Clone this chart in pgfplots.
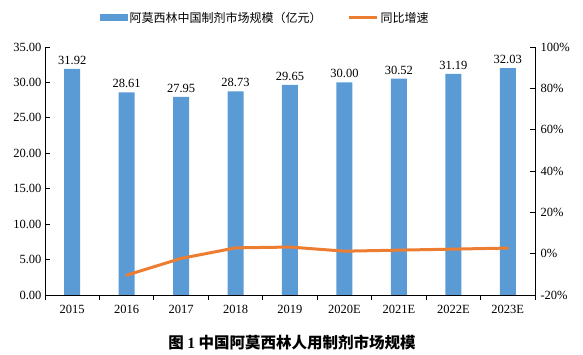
\documentclass[border=0pt]{standalone}
\usepackage{pgfplots}
\pgfplotsset{compat=1.18}
\usepackage{fontspec}
\setmainfont{Liberation Serif}
\newfontfamily\cjk{Noto Sans CJK SC}
\definecolor{barblue}{HTML}{5B9BD5}
\definecolor{lineorange}{HTML}{ED7D31}
\begin{document}
\begin{tikzpicture}
\path[use as bounding box] (0,0) rectangle (583pt,355pt);
\begin{axis}[
  at={(45pt,60pt)}, anchor=south west,
  scale only axis, width=490pt, height=248pt,
  xmin=-0.5, xmax=8.5, ymin=0, ymax=35,
  axis x line*=bottom, axis y line*=left,
  axis line style={black, line width=0.8pt},
  xtick={0,...,8},
  xticklabels={2015,2016,2017,2018,2019,2020E,2021E,2022E,2023E},
  major x tick style={draw=none},
  minor xtick={-0.5,0.5,...,8.5},
  minor x tick style={black, line width=0.8pt},
  tick align=inside,
  major tick length=5pt, minor tick length=5pt,
  ytick={0,5,...,35},
  ytick style={black, line width=0.8pt},
  /pgf/number format/assume math mode=true,
  /pgf/number format/fixed, /pgf/number format/fixed zerofill, /pgf/number format/precision=2,
  tick label style={font=\fontsize{12.5}{14}\selectfont},
  xticklabel style={yshift=-2pt},
  ybar, bar width=16pt,
  nodes near coords,
  every node near coord/.append style={font=\fontsize{12.5}{14}\selectfont, black, yshift=1pt},
  legend columns=2,
  legend style={draw=none, fill=none, at={(0.449,1.117)}, anchor=center,
    font=\cjk\fontsize{12}{14}\selectfont,
    /tikz/every even column/.append style={column sep=24pt}},
]
\addplot[fill=barblue, draw=none,
  legend image code/.code={\fill[barblue] (0pt,-3.5pt) rectangle (28pt,3.5pt);}]
  coordinates {(0,31.92) (1,28.61) (2,27.95) (3,28.73) (4,29.65) (5,30.00) (6,30.52) (7,31.19) (8,32.03)};
\addlegendentry{阿莫西林中国制剂市场规模（亿元）}
\addlegendimage{legend image code/.code={\draw[lineorange, line width=3pt] (0pt,0pt) -- (28pt,0pt);}}
\addlegendentry{同比增速}
\end{axis}
\begin{axis}[
  at={(45pt,60pt)}, anchor=south west,
  scale only axis, width=490pt, height=248pt,
  xmin=-0.5, xmax=8.5, ymin=-20, ymax=100,
  hide x axis,
  axis y line*=right,
  axis line style={black, line width=0.8pt},
  tick align=inside, major tick length=5pt,
  ytick={-20,0,...,100},
  ytick style={black, line width=0.8pt},
  /pgf/number format/assume math mode=true,
  yticklabel={\pgfmathprintnumber{\tick}\%},
  tick label style={font=\fontsize{12.5}{14}\selectfont},
  yticklabel style={xshift=2pt},
]
\addplot[lineorange, line width=3pt, mark=none, line join=round, line cap=round]
  coordinates {(1,-10.4) (2,-2.3) (3,2.8) (4,3.2) (5,1.2) (6,1.7) (7,2.2) (8,2.7)};
\end{axis}
\node[font=\fontsize{15.5}{17}\selectfont] at (292pt,12pt) {\cjk\bfseries 图 {\rmfamily\bfseries 1} 中国阿莫西林人用制剂市场规模};
\end{tikzpicture}
\end{document}
